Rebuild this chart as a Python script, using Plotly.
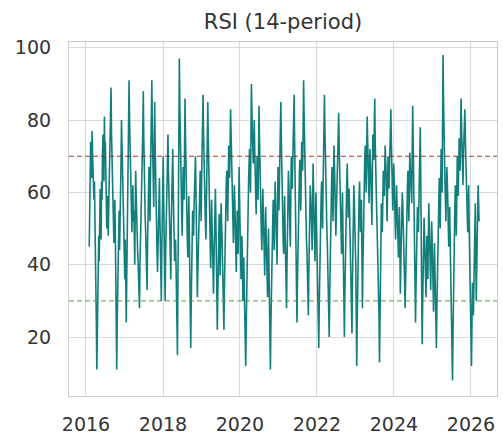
import pandas as pd
import plotly.graph_objects as go

start_date = "2016-02-01"
step = "108h"

rsi_main = [
    45, 62, 70, 77, 66, 58, 55, 38, 11, 30, 48, 57, 52, 63, 71, 68, 81, 74, 60, 55,
    48, 62, 72, 89, 70, 54, 46, 58, 36, 11, 34, 50, 44, 61, 80, 66, 52, 40, 47, 24,
    45, 63, 91, 72, 58, 49, 62, 55, 40, 66, 51, 44, 37, 28, 49, 60, 71, 88, 64, 53,
    45, 33, 58, 67, 52, 74, 91, 70, 56, 85, 62, 47, 38, 55, 64, 42, 30, 58, 70, 49,
    30, 52, 61, 76, 58, 44, 36, 63, 72, 55, 41, 47, 33, 15, 54, 97, 73, 60, 48, 67,
    58, 86, 64, 50, 42, 59, 38, 17, 41, 55, 48, 62, 70, 53, 31, 46, 57, 66, 52, 75,
    87, 68, 55, 47, 63, 85, 66, 51, 39, 58, 44, 32, 50, 61, 45, 22, 40, 54, 37, 57,
    48, 35, 22, 44, 59, 66, 52, 73, 64, 83, 70, 58, 46, 62, 51, 38, 55, 43, 67, 49,
    36, 48, 30, 42, 25, 12, 34, 50, 63, 72, 60, 90, 76, 68, 80, 62, 54, 70, 58, 84,
    66, 52, 44, 61, 48, 37, 56, 42, 31, 50, 28, 11, 35, 47, 58, 44, 63, 52, 40, 67,
    55, 72, 85, 64, 50, 43, 59, 38, 28, 52, 66, 57, 45, 70, 61, 78, 87, 63, 48, 24,
    46, 58, 69, 55, 74, 66, 91, 72, 59, 47, 40, 26, 50, 62, 56, 44, 68, 53, 41, 60,
    45, 34, 17, 40, 55, 63, 50, 71, 87, 66, 54, 46, 33, 20, 42, 58, 67, 52, 73, 62,
    48, 59, 70, 82, 64, 55, 43, 60, 37, 20, 44, 57, 68, 53, 61, 46, 35, 21, 48, 62,
    52, 40, 12, 36, 54, 63, 49, 58, 28, 50, 66, 73, 60, 81, 68, 57, 72, 64, 51, 76,
    69, 86, 62, 55, 44, 38, 13, 42, 57, 49, 66, 59, 73, 65, 52, 70, 61, 77, 83, 64,
    55, 68, 58, 47, 62, 51, 42, 56, 32, 48, 60, 53, 41, 28, 45, 58, 66, 52, 71, 63,
    57, 84, 65, 46, 24, 43, 56, 49, 62, 78, 50, 18, 39, 53, 44, 31, 48, 36, 57, 45,
    33, 52, 41, 27, 46, 30, 17, 38, 55, 64, 50, 72, 60, 98, 74, 63, 52, 67, 58, 45,
    56, 38, 26, 8, 34, 51, 62, 48, 70, 59, 75, 66, 86, 71, 62, 78, 83, 67, 58, 49,
    62, 40, 28, 12, 35, 26, 48, 57, 30, 46, 62, 52,
]

rsi_between = [
    52, 74, 64, 71, 60, 63, 47, 24, 20, 44, 41, 61, 47, 58, 76, 63, 69, 66, 50, 59,
    56, 66, 79, 76, 65, 51, 53, 49, 28, 25, 39, 55, 50, 68, 72, 60, 48, 36, 40, 35,
    54, 77, 80, 66, 53, 57, 52, 48, 55, 59, 47, 41, 33, 40, 55, 64, 78, 75, 57, 49,
    39, 46, 62, 60, 63, 80, 78, 62, 70, 73, 55, 43, 47, 58, 53, 36, 44, 64, 58, 41,
    42, 57, 68, 66, 51, 40, 50, 67, 62, 48, 45, 40, 24, 35, 76, 84, 66, 54, 57, 63,
    72, 75, 57, 46, 51, 49, 28, 29, 48, 51, 56, 66, 61, 42, 38, 52, 61, 59, 64, 80,
    77, 61, 51, 55, 74, 75, 58, 45, 49, 51, 38, 41, 56, 53, 34, 31, 47, 46, 47, 52,
    42, 28, 33, 52, 63, 59, 62, 69, 74, 77, 64, 52, 54, 57, 45, 47, 49, 55, 58, 42,
    42, 39, 36, 33, 18, 23, 42, 57, 68, 66, 75, 83, 72, 74, 71, 58, 62, 64, 71, 75,
    59, 48, 53, 55, 42, 47, 49, 36, 41, 39, 19, 23, 41, 53, 51, 54, 58, 46, 54, 61,
    64, 79, 75, 57, 46, 51, 49, 33, 40, 59, 62, 51, 58, 66, 70, 83, 75, 56, 36, 35,
    52, 64, 62, 65, 70, 79, 82, 66, 53, 44, 33, 38, 56, 59, 50, 56, 61, 47, 51, 53,
    40, 26, 29, 48, 59, 57, 61, 79, 77, 60, 50, 40, 27, 31, 50, 63, 60, 63, 68, 55,
    54, 65, 76, 73, 60, 49, 52, 49, 29, 32, 51, 63, 61, 57, 54, 41, 28, 35, 55, 57,
    46, 26, 24, 45, 59, 56, 54, 43, 39, 58, 70, 67, 71, 75, 63, 65, 68, 58, 64, 73,
    78, 74, 59, 50, 41, 26, 28, 50, 53, 58, 63, 66, 69, 59, 61, 66, 69, 80, 74, 60,
    62, 63, 53, 55, 57, 47, 49, 44, 40, 54, 57, 47, 35, 37, 52, 62, 59, 62, 67, 60,
    71, 75, 56, 35, 34, 50, 53, 56, 70, 64, 34, 29, 46, 49, 38, 40, 42, 47, 51, 39,
    43, 47, 34, 37, 38, 24, 28, 47, 60, 57, 61, 66, 79, 86, 69, 58, 60, 63, 52, 51,
    47, 32, 17, 21, 43, 57, 55, 59, 65, 67, 71, 76, 79, 67, 70, 81, 75, 63, 54, 56,
    51, 34, 20, 24, 31, 37, 53, 44, 38, 54, 57,
]

overbought = 70
oversold = 30
y_ticks = [20, 40, 60, 80, 100]
title_text = "RSI (14-period)"

rsi = []
for i, v in enumerate(rsi_main):
    rsi.append(v)
    if i < len(rsi_between):
        rsi.append(rsi_between[i])

dates = pd.date_range(start_date, periods=len(rsi), freq=step)

fig = go.Figure()
fig.add_trace(go.Scatter(x=dates, y=rsi, mode="lines",
                         line=dict(color="#127f7c", width=1.6), showlegend=False))
fig.add_hline(y=overbought, line=dict(color="rgba(150,25,25,0.85)", dash="5px,3px", width=1.2))
fig.add_hline(y=oversold, line=dict(color="rgba(70,150,60,0.75)", dash="5px,3px", width=1.2))

fig.update_layout(
    width=503, height=440,
    margin=dict(l=69, r=6, t=42, b=44),
    paper_bgcolor="white", plot_bgcolor="white",
    font=dict(family="DejaVu Sans", size=19, color="#333333"),
    title=dict(text=title_text, x=0.5, xanchor="center", xref="paper",
               y=0.95, yanchor="middle", font=dict(size=21, color="#333333")),
)
fig.update_xaxes(
    type="date", range=["2015-07-24", "2026-09-05"],
    tick0="2016-01-01", dtick="M24", tickformat="%Y",
    showgrid=True, gridcolor="#d9d9d9", gridwidth=1,
    showline=True, linecolor="#cccccc", linewidth=1.2, mirror=True,
    ticks="outside", ticklen=11, tickcolor="rgba(0,0,0,0)",
    zeroline=False,
)
fig.update_yaxes(
    range=[3.7, 101.6], tickvals=y_ticks,
    showgrid=True, gridcolor="#d9d9d9", gridwidth=1,
    showline=True, linecolor="#cccccc", linewidth=1.2, mirror=True,
    ticks="outside", ticklen=13, tickcolor="rgba(0,0,0,0)",
    zeroline=False,
)

fig.write_html("out.html")
